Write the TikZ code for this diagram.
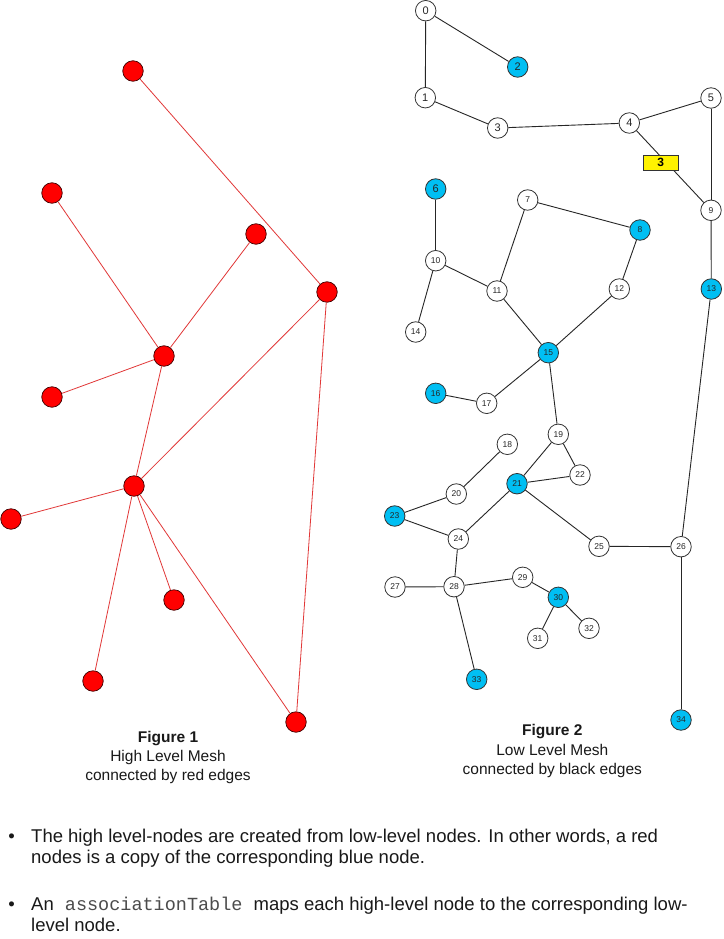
\documentclass[tikz,border=0pt]{standalone}
\usepackage{fontspec}
\setmainfont{Liberation Sans}
\setmonofont{Liberation Mono}
\definecolor{nodeblue}{RGB}{0,191,243}
\definecolor{redge}{RGB}{225,55,55}
\definecolor{hnred}{RGB}{255,0,0}
\begin{document}
\begin{tikzpicture}[x=1pt,y=-1pt,
  hn/.style={circle,fill=hnred,draw=black!75!red,line width=0.7pt,minimum size=20.5pt,inner sep=0pt},
  ln/.style={circle,fill=white,draw=black!80,line width=0.8pt,minimum size=20.5pt,inner sep=0pt,font=\fontsize{8.5}{8.5}\selectfont,text=black!85},
  bn/.style={ln,fill=nodeblue},
  bigl/.style={font=\fontsize{11}{11}\selectfont},
  hedge/.style={draw=redge,line width=0.8pt},
  ledge/.style={draw=black!85,line width=0.9pt},
  captxt/.style={anchor=base,inner sep=0pt,font=\fontsize{15.5}{18}\selectfont,text=black!90},
  txt/.style={anchor=base west,inner sep=0pt,font=\fontsize{18.5}{21}\selectfont,text=black!90},
  bul/.style={anchor=base,inner sep=0pt,font=\fontsize{18.5}{21}\selectfont,text=black!90}
]
\useasboundingbox[fill=white] (0,0) rectangle (723,939);

% ---------- Figure 1: high level mesh ----------
\node[hn] (r1) at (133,71) {};
\node[hn] (r2) at (52,193) {};
\node[hn] (r3) at (256,234) {};
\node[hn] (r4) at (327,292) {};
\node[hn] (r5) at (164,356) {};
\node[hn] (r6) at (52,397) {};
\node[hn] (r7) at (134,486) {};
\node[hn] (r8) at (11,519) {};
\node[hn] (r9) at (174,600) {};
\node[hn] (r10) at (93,681) {};
\node[hn] (r11) at (296,722) {};

\draw[hedge] (r1) -- (r4);
\draw[hedge] (r2) -- (r5);
\draw[hedge] (r3) -- (r5);
\draw[hedge] (r5) -- (r6);
\draw[hedge] (r5) -- (r7);
\draw[hedge] (r4) -- (r7);
\draw[hedge] (r4) -- (r11);
\draw[hedge] (r7) -- (r8);
\draw[hedge] (r7) -- (r9);
\draw[hedge] (r7) -- (r10);
\draw[hedge] (r7) -- (r11);

\node[captxt] (c1a) at (168,742) {\bfseries Figure 1};
\node[captxt] (c1b) at (168,761) {High Level Mesh};
\node[captxt] (c1c) at (168,780) {connected by red edges};

% ---------- Figure 2: low level mesh ----------
\node[ln,bigl] (l0) at (425.7,10.7) {0};
\node[ln,bigl] (l1) at (425.3,97.7) {1};
\node[bn,bigl] (l2) at (517.7,67) {2};
\node[ln,bigl] (l3) at (497.7,128) {3};
\node[ln,bigl] (l4) at (629.3,123) {4};
\node[ln,bigl] (l5) at (711,98) {5};
\node[bn,bigl] (l6) at (435.7,189) {6};
\node[ln] (l7) at (527.7,200) {7};
\node[bn] (l8) at (640,230) {8};
\node[ln] (l9) at (711,210.3) {9};
\node[ln] (l10) at (435.7,260.7) {10};
\node[ln] (l11) at (497,291) {11};
\node[ln] (l12) at (619.3,289) {12};
\node[bn] (l13) at (711.3,289) {13};
\node[ln] (l14) at (415.7,332) {14};
\node[bn] (l15) at (548.3,352.7) {15};
\node[bn] (l16) at (435.7,393.3) {16};
\node[ln] (l17) at (486.7,403.3) {17};
\node[ln] (l18) at (507.3,444.3) {18};
\node[ln] (l19) at (558.3,434.3) {19};
\node[ln] (l20) at (456.3,494) {20};
\node[bn] (l21) at (517,483.7) {21};
\node[ln] (l22) at (580,475) {22};
\node[bn] (l23) at (394.7,516) {23};
\node[ln] (l24) at (458.3,539) {24};
\node[ln] (l25) at (599,546.3) {25};
\node[ln] (l26) at (681,546.7) {26};
\node[ln] (l27) at (395,587) {27};
\node[ln] (l28) at (454,586.7) {28};
\node[ln] (l29) at (522.7,577.3) {29};
\node[bn] (l30) at (558.3,597.3) {30};
\node[ln] (l31) at (537.7,638.3) {31};
\node[ln] (l32) at (589,628.3) {32};
\node[bn] (l33) at (476.7,679.3) {33};
\node[bn] (l34) at (681,720) {34};

\draw[ledge] (l0) -- (l1);
\draw[ledge] (l0) -- (l2);
\draw[ledge] (l1) -- (l3);
\draw[ledge] (l3) -- (l4);
\draw[ledge] (l4) -- (l5);
\draw[ledge] (l4) -- (l9);
\draw[ledge] (l5) -- (l9);
\draw[ledge] (l9) -- (l13);
\draw[ledge] (l13) -- (l26);
\draw[ledge] (l26) -- (l34);
\draw[ledge] (l25) -- (l26);
\draw[ledge] (l21) -- (l25);
\draw[ledge] (l21) -- (l22);
\draw[ledge] (l19) -- (l22);
\draw[ledge] (l19) -- (l21);
\draw[ledge] (l15) -- (l19);
\draw[ledge] (l15) -- (l17);
\draw[ledge] (l16) -- (l17);
\draw[ledge] (l15) -- (l11);
\draw[ledge] (l15) -- (l12);
\draw[ledge] (l12) -- (l8);
\draw[ledge] (l7) -- (l8);
\draw[ledge] (l7) -- (l11);
\draw[ledge] (l6) -- (l10);
\draw[ledge] (l10) -- (l11);
\draw[ledge] (l10) -- (l14);
\draw[ledge] (l18) -- (l20);
\draw[ledge] (l20) -- (l23);
\draw[ledge] (l23) -- (l24);
\draw[ledge] (l24) -- (l21);
\draw[ledge] (l24) -- (l28);
\draw[ledge] (l27) -- (l28);
\draw[ledge] (l28) -- (l29);
\draw[ledge] (l29) -- (l30);
\draw[ledge] (l30) -- (l31);
\draw[ledge] (l30) -- (l32);
\draw[ledge] (l28) -- (l33);

\node[draw=black!80,fill=yellow,line width=0.8pt,minimum width=35pt,minimum height=15pt,inner sep=0pt,font=\bfseries\fontsize{12}{12}\selectfont] (bx) at (660.8,162.8) {3};

\node[captxt] (c2a) at (552.3,735.5) {\bfseries Figure 2};
\node[captxt] (c2b) at (552.3,755) {Low Level Mesh};
\node[captxt] (c2c) at (552.3,774) {connected by black edges};

% ---------- bullet text ----------
\node[bul] (b1) at (11.7,842) {•};
\node[txt] (t1) at (31,842) {The high level-nodes are created from low-level nodes. In other words, a red};
\node[txt] (t2) at (31,863) {nodes is a copy of the corresponding blue node.};
\node[bul] (b2) at (11.7,910) {•};
\node[txt] (t3) at (31,910) {An{\ttfamily\color{black!70}\ associationTable\ }maps each high-level node to the corresponding low-};
\node[txt] (t4) at (31,931) {level node.};
\end{tikzpicture}
\end{document}
